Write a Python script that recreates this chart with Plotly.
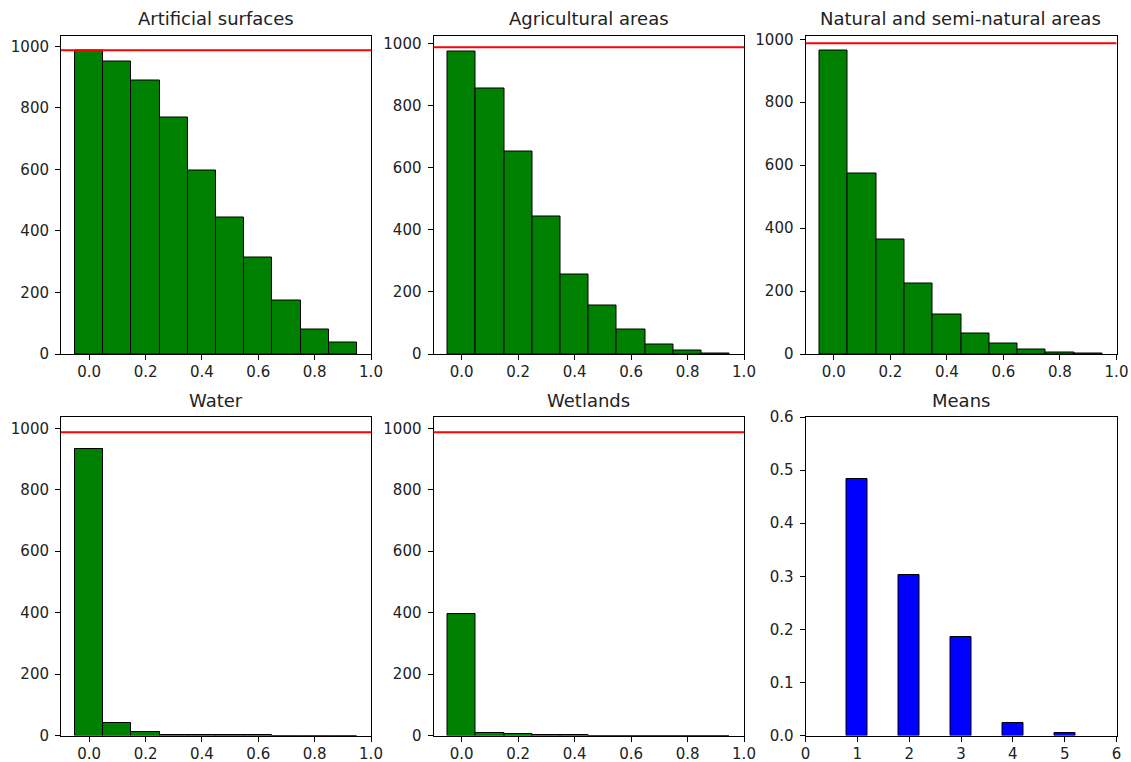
import plotly.graph_objects as go
from plotly.subplots import make_subplots

# Histogram bins (centres, width 0.1) shared by every land-cover class
bin_centres = [0.0, 0.1, 0.2, 0.3, 0.4, 0.5, 0.6, 0.7, 0.8, 0.9]

titles = ["Artificial surfaces", "Agricultural areas", "Natural and semi-natural areas",
          "Water", "Wetlands", "Means"]

artificial = [986, 952, 889, 768, 596, 444, 312, 174, 81, 37]
agricultural = [975, 854, 653, 443, 256, 155, 80, 32, 11, 1]
natural = [963, 574, 365, 223, 126, 65, 32, 13, 4, 1]
water = [933, 40, 11, 3, 3, 1, 1, 0, 0, 0]
wetlands = [396, 7, 4, 1, 1, 0, 0, 0, 0, 0]

# Reference level drawn in every histogram
sample_count = 987

# Mean share of each class
mean_classes = [1, 2, 3, 4, 5]
mean_values = [0.483, 0.302, 0.186, 0.023, 0.0045]

hist_series = [artificial, agricultural, natural, water, wetlands]
hist_ymax = [1035, 1025, 1012, 1037, 1037]

W, H = 1131, 762
FONT = "DejaVu Sans"

fig = make_subplots(rows=2, cols=3)

# panel placement in pixels: (left, right) columns and (top, bottom) rows
cols_px = [(61, 371), (433.5, 744), (805.5, 1116.5)]
rows_px = [(35.5, 354), (417, 735.5)]

axis_style = dict(
    showline=True, linecolor="black", linewidth=1, mirror=True,
    ticks="outside", ticklen=5, tickwidth=1, tickcolor="black",
    showgrid=False, zeroline=False, automargin=False,
    tickfont=dict(family=FONT, size=15, color="#222222"),
)
x_style = dict(axis_style, ticklabelstandoff=-1)
y_style = dict(axis_style, ticklabelstandoff=3)

annotations = []
shapes = []
for i in range(6):
    r, c = divmod(i, 3)
    x0, x1 = cols_px[c]
    top, bot = rows_px[r]
    xd = [x0 / W, x1 / W]
    yd = [1 - bot / H, 1 - top / H]
    n = i + 1
    xname = "xaxis" if n == 1 else f"xaxis{n}"
    yname = "yaxis" if n == 1 else f"yaxis{n}"
    xref = "x" if n == 1 else f"x{n}"
    yref = "y" if n == 1 else f"y{n}"

    if i < 5:
        fig.add_trace(go.Bar(
            x=bin_centres, y=hist_series[i], width=0.1,
            marker=dict(color="#008000", line=dict(color="black", width=1)),
            showlegend=False,
        ), row=r + 1, col=c + 1)
        fig.layout[xname].update(domain=xd, range=[-0.1, 1.0],
                                 tickvals=[0, 0.2, 0.4, 0.6, 0.8, 1.0],
                                 tickformat=".1f", **x_style)
        fig.layout[yname].update(domain=yd, range=[0, hist_ymax[i]],
                                 tickvals=[0, 200, 400, 600, 800, 1000],
                                 **y_style)
        shapes.append(dict(type="line", xref=f"{xref} domain", yref=yref,
                           x0=0, x1=1, y0=sample_count, y1=sample_count,
                           line=dict(color="red", width=2)))
    else:
        fig.add_trace(go.Bar(
            x=mean_classes, y=mean_values, width=0.4,
            marker=dict(color="#0000ff", line=dict(color="black", width=1)),
            showlegend=False,
        ), row=r + 1, col=c + 1)
        fig.layout[xname].update(domain=xd, range=[0, 6],
                                 tickvals=[0, 1, 2, 3, 4, 5, 6], **x_style)
        fig.layout[yname].update(domain=yd, range=[0, 0.6],
                                 tickvals=[0, 0.1, 0.2, 0.3, 0.4, 0.5, 0.6],
                                 tickformat=".1f", **y_style)

    annotations.append(dict(
        text=titles[i], xref="paper", yref="paper",
        x=(xd[0] + xd[1]) / 2, y=yd[1], xanchor="center", yanchor="bottom",
        yshift=4, showarrow=False,
        font=dict(family=FONT, size=18, color="#222222"),
    ))

fig.update_layout(
    width=W, height=H,
    margin=dict(l=0, r=0, t=0, b=0),
    paper_bgcolor="white", plot_bgcolor="white",
    annotations=annotations, shapes=shapes,
    bargap=0,
)

fig.write_html("out.html")
